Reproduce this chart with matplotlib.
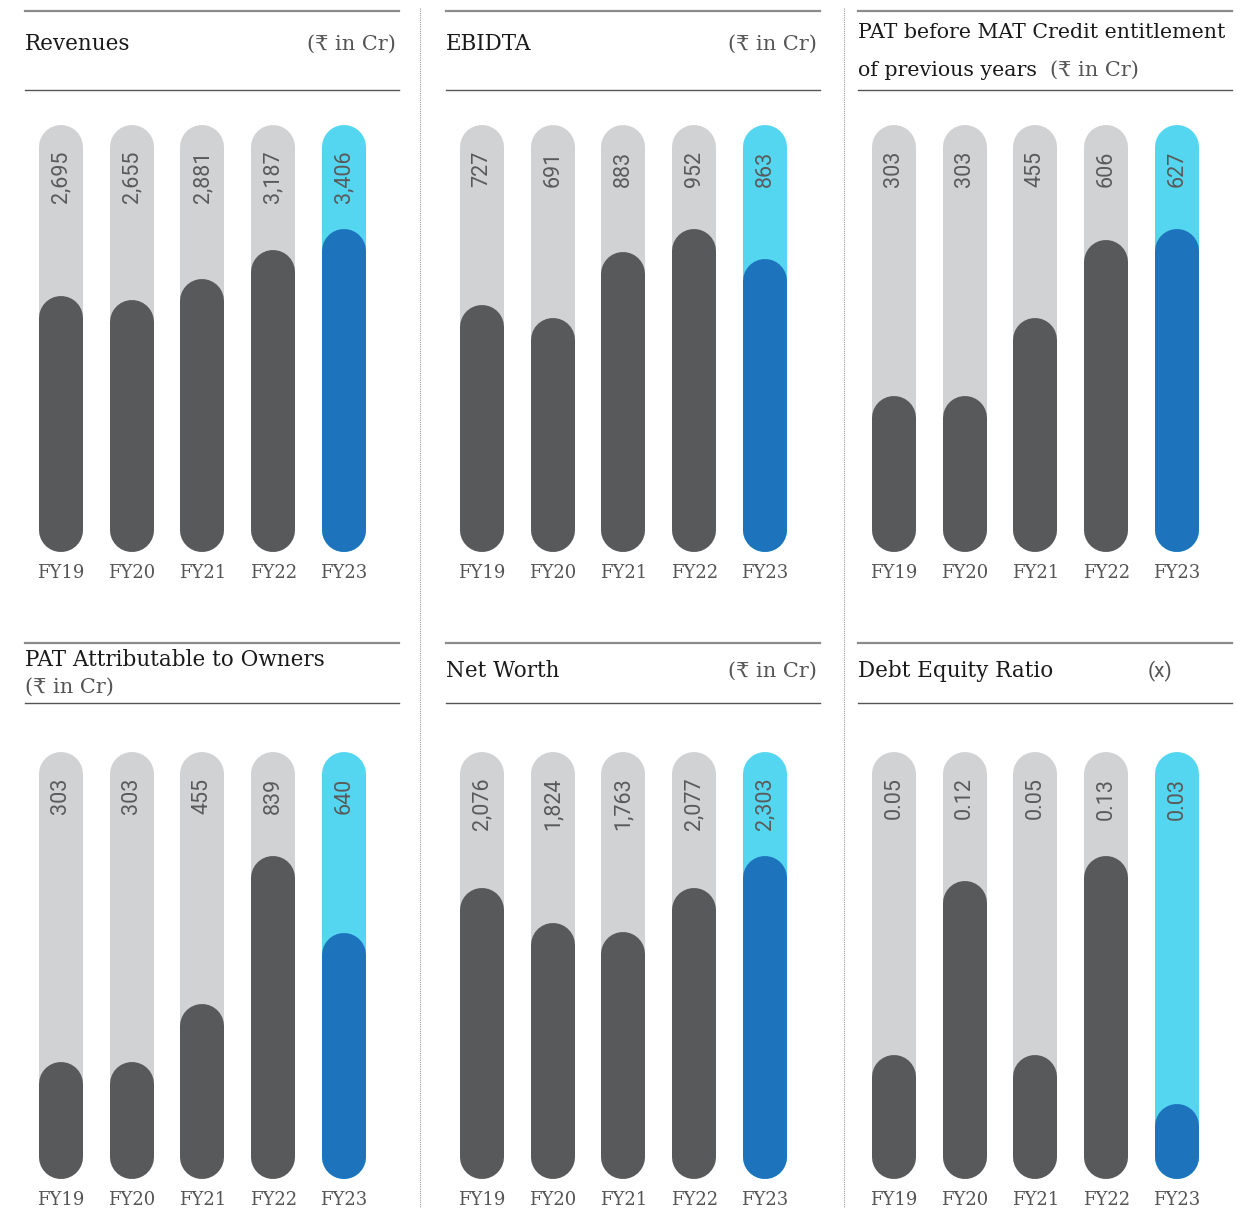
import matplotlib.pyplot as plt
from matplotlib.lines import Line2D

W, H = 1237, 1208
years = ['FY19', 'FY20', 'FY21', 'FY22', 'FY23']

revenues = [2695, 2655, 2881, 3187, 3406]
ebidta = [727, 691, 883, 952, 863]
pat_before_mat = [303, 303, 455, 606, 627]
pat_owners = [303, 303, 455, 839, 640]
net_worth = [2076, 1824, 1763, 2077, 2303]
debt_equity = [0.05, 0.12, 0.05, 0.13, 0.03]

rev_labels = ['2,695', '2,655', '2,881', '3,187', '3,406']
ebidta_labels = ['727', '691', '883', '952', '863']
patmat_labels = ['303', '303', '455', '606', '627']
patown_labels = ['303', '303', '455', '839', '640']
nw_labels = ['2,076', '1,824', '1,763', '2,077', '2,303']
de_labels = ['0.05', '0.12', '0.05', '0.13', '0.03']

GRAY = '#d1d2d4'
DARK = '#58595b'
CYAN = '#55d6f0'
BLUE = '#1e74bc'
TXT = '#555555'

SERIF = ['DejaVu Serif', 'DejaVu Sans']
SANS = ['Roboto', 'DejaVu Sans']

fig = plt.figure(figsize=(W / 100, H / 100), dpi=100)


def fx(px):
    return px / W


def fy(py):
    return 1 - py / H


def hline(x0, x1, y, color, lw):
    fig.add_artist(Line2D([fx(x0), fx(x1)], [fy(y), fy(y)], color=color, lw=lw,
                          transform=fig.transFigure))


def panel(left, bottom_px, values, labels):
    # axes spans the bar tracks; 70.75 px per category
    span = 70.75 * 5
    track_h = 427
    ax = fig.add_axes([fx(left), fy(bottom_px), fx(span), track_h / H])
    ymax = max(values) * 1.322
    ax.set_xlim(-0.5, 4.5)
    ax.set_ylim(0, ymax)
    ax.axis('off')
    bw = 44  # bar width in px
    r = ymax * (bw / 2) / track_h
    lw = bw * 72 / 100
    for i, v in enumerate(values):
        last = i == len(values) - 1
        ax.plot([i, i], [r, ymax - r], color=CYAN if last else GRAY, lw=lw,
                solid_capstyle='round')
        ax.plot([i, i], [r, v - r], color=BLUE if last else DARK, lw=lw,
                solid_capstyle='round')
        ax.text(i, 0.94, labels[i], rotation=90, ha='center', va='top',
                transform=ax.get_xaxis_transform(), fontsize=15.5, color='#5a5a5a',
                family=SANS)
        ax.text(i, -0.05, years[i], ha='center', va='center',
                transform=ax.get_xaxis_transform(), fontsize=13, color=TXT,
                family=SERIF)
    return ax


cols = [(25, 399, 25.6), (446, 820, 446.6), (858, 1232, 858.6)]

# top row
panel(cols[0][2], 552, revenues, rev_labels)
panel(cols[1][2], 552, ebidta, ebidta_labels)
panel(cols[2][2], 552, pat_before_mat, patmat_labels)
# bottom row
panel(cols[0][2], 1179, pat_owners, patown_labels)
panel(cols[1][2], 1179, net_worth, nw_labels)
panel(cols[2][2], 1179, debt_equity, de_labels)

# header rules
for x0, x1, _ in cols:
    hline(x0, x1, 11, '#8a8a8a', 1.6)
    hline(x0, x1, 90, '#555555', 1.0)
    hline(x0, x1, 643, '#8a8a8a', 1.6)
    hline(x0, x1, 703, '#555555', 1.0)

# dotted separators
for x in (420, 844):
    fig.add_artist(Line2D([fx(x), fx(x)], [fy(8), 0], color='#999999', lw=0.8,
                          ls=(0, (1, 1)), transform=fig.transFigure))


def title(x, y, s, size=15.5, ha='left'):
    fig.text(fx(x), fy(y), s, ha=ha, va='center', fontsize=size, color='#1a1a1a',
             family=SERIF)


def unit(x, y, s='(₹ in Cr)', ha='right'):
    fig.text(fx(x), fy(y), s, ha=ha, va='center', fontsize=15, color=TXT,
             family=SERIF, fontweight='light')


title(25, 44, 'Revenues')
unit(396, 44)
title(446, 44, 'EBIDTA')
unit(817, 44)
title(858, 33, 'PAT before MAT Credit entitlement', size=14.8)
title(858, 70, 'of previous years', size=14.8)
unit(1050, 70, ha='left')

title(25, 660, 'PAT Attributable to Owners')
unit(25, 687, ha='left')
title(446, 671, 'Net Worth')
unit(817, 671)
title(858, 671, 'Debt Equity Ratio')
fig.text(fx(1160), fy(671), '(x)', ha='center', va='center', fontsize=15,
         color=TXT, family=SANS)

fig.savefig('out.png', dpi=100, facecolor='white')
